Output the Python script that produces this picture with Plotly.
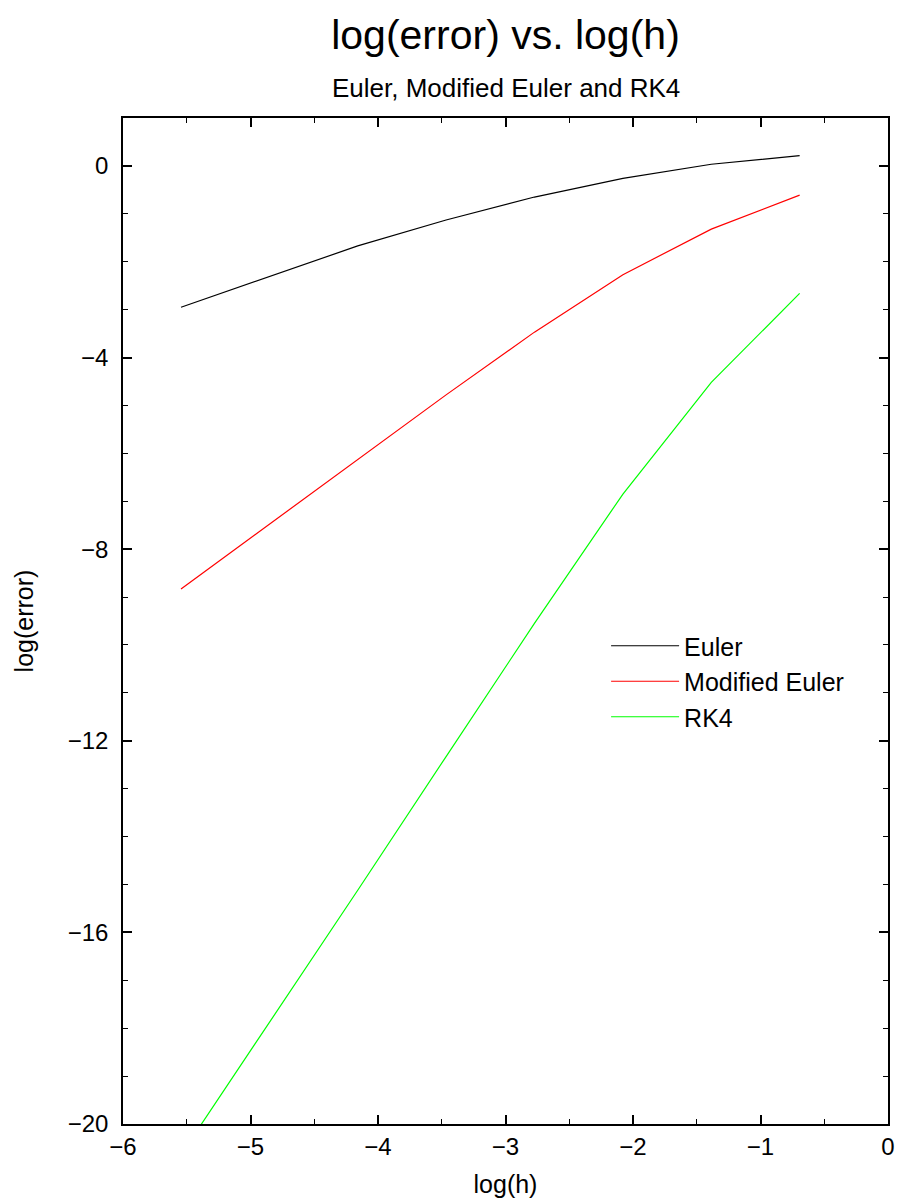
import plotly.graph_objects as go

log_h = [-5.545, -4.852, -4.159, -3.466, -2.773, -2.079, -1.386, -0.693]
euler = [-2.95, -2.31, -1.67, -1.13, -0.65, -0.26, 0.035, 0.215]
mod_euler = [-8.83, -7.48, -6.12, -4.78, -3.47, -2.27, -1.32, -0.61]
rk4 = [-20.64, -17.88, -15.12, -12.33, -9.55, -6.85, -4.52, -2.66]

series_names = ["Euler", "Modified Euler", "RK4"]
series_values = [euler, mod_euler, rk4]
series_colors = ["#000000", "#ff0000", "#00ff00"]

FONT = "Liberation Sans, Arial, Helvetica, sans-serif"

fig = go.Figure()
for name, vals, col in zip(series_names, series_values, series_colors):
    fig.add_trace(go.Scatter(x=log_h, y=vals, mode="lines", name=name,
                             line=dict(color=col, width=1.2)))

axis_common = dict(
    showgrid=False, zeroline=False, showline=True, linecolor="black",
    linewidth=1.5, mirror="allticks", ticks="inside", ticklen=9,
    tickwidth=1.5, tickcolor="black", automargin=False,
    tickfont=dict(family=FONT, size=24, color="black"),
)

fig.update_xaxes(range=[-6, 0], dtick=1, tick0=0,
                 minor=dict(ticks="inside", ticklen=5, dtick=0.5, tickcolor="black", tickwidth=1.2),
                 title=dict(text="log(h)", font=dict(family=FONT, size=25, color="black"), standoff=17),
                 **axis_common)
fig.update_yaxes(range=[-20, 1], dtick=4, tick0=0, ticklabelstandoff=8,
                 minor=dict(ticks="inside", ticklen=5, dtick=1, tickcolor="black", tickwidth=1.2),
                 title=dict(text="log(error)", font=dict(family=FONT, size=25, color="black"), standoff=27),
                 **axis_common)

fig.update_layout(
    width=901, height=1203,
    margin=dict(l=123, r=13, t=118, b=79),
    paper_bgcolor="white", plot_bgcolor="white",
    title=dict(text="log(error) vs. log(h)", x=0.5, xanchor="center", xref="paper",
               y=1 - 35 / 1203, yanchor="middle", yref="container",
               font=dict(family=FONT, size=41, color="black")),
    annotations=[dict(text="Euler, Modified Euler and RK4", xref="paper", yref="paper",
                      x=0.5, y=(1203 - 79 - 88) / (1203 - 118 - 79), xanchor="center", yanchor="middle",
                      showarrow=False, font=dict(family=FONT, size=26, color="black"))],
    legend=dict(x=0.6315, y=0.498, xanchor="left", yanchor="top",
                bgcolor="rgba(0,0,0,0)", itemwidth=68,
                font=dict(family=FONT, size=25, color="black"), tracegroupgap=0),
    showlegend=True,
)

fig.write_html("out.html")
